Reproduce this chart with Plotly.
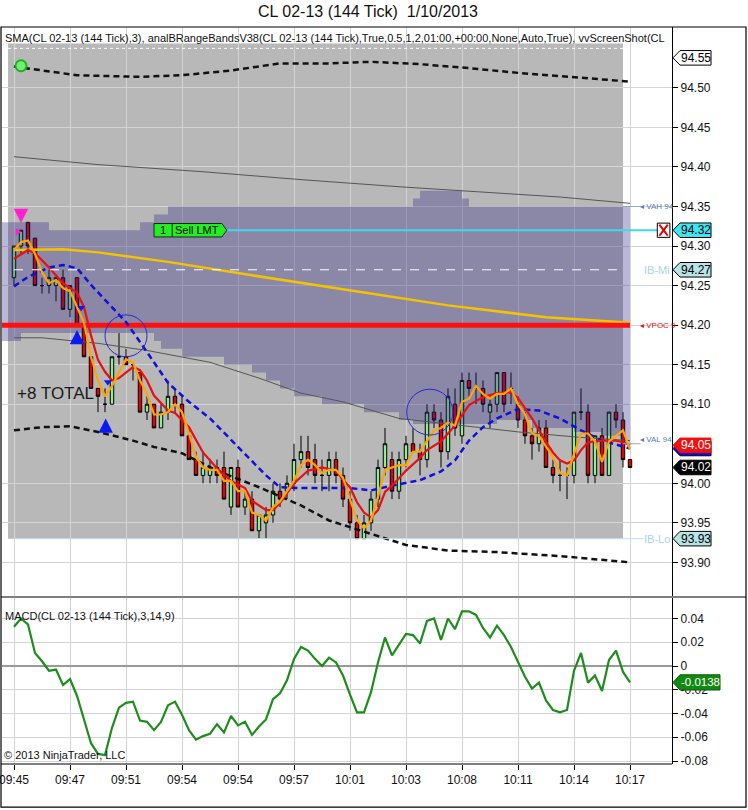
import plotly.graph_objects as go

# ---- CL 02-13, 144 tick bars, x = bar number ----
bar_idx = list(range(89))
tick_bars = [0, 8, 16, 24, 32, 40, 48, 56, 64, 72, 80, 88]
tick_text = ['09:45', '09:47', '09:51', '09:54', '09:54', '09:57',
             '10:01', '10:03', '10:08', '10:11', '10:14', '10:17']

opens = [94.26, 94.30, 94.33, 94.31, 94.25, 94.25, 94.25, 94.26, 94.22, 94.26,
         94.20, 94.16, 94.12, 94.10, 94.10, 94.16, 94.16, 94.15, 94.14, 94.09,
         94.10, 94.07, 94.09, 94.11, 94.10, 94.06, 94.03, 94.01, 94.01, 94.02,
         94.02, 93.97, 94.02, 93.97, 93.98, 93.94, 93.95, 93.96, 93.99, 93.99,
         94.00, 94.03, 94.04, 94.03, 94.01, 94.01, 94.03, 94.01, 93.98, 93.95,
         93.93, 93.95, 93.98, 94.02, 94.03, 93.99, 94.03, 94.05, 94.04, 94.03,
         94.09, 94.08, 94.04, 94.10, 94.06, 94.13, 94.12, 94.12, 94.09, 94.10,
         94.14, 94.12, 94.10, 94.08, 94.06, 94.05, 94.07, 94.02, 94.01, 94.01,
         94.01, 94.09, 94.09, 94.01, 94.06, 94.01, 94.09, 94.08, 94.03]
highs = [94.30, 94.32, 94.33, 94.31, 94.26, 94.27, 94.26, 94.27, 94.25, 94.26,
         94.20, 94.16, 94.12, 94.12, 94.16, 94.19, 94.17, 94.15, 94.14, 94.11,
         94.10, 94.10, 94.13, 94.12, 94.11, 94.07, 94.04, 94.04, 94.03, 94.03,
         94.04, 94.02, 94.03, 93.99, 93.99, 93.96, 93.97, 94.00, 94.00, 94.01,
         94.05, 94.06, 94.06, 94.05, 94.03, 94.04, 94.04, 94.02, 93.99, 93.96,
         93.96, 93.99, 94.03, 94.07, 94.04, 94.04, 94.06, 94.07, 94.05, 94.10,
         94.10, 94.09, 94.12, 94.12, 94.14, 94.14, 94.14, 94.13, 94.11, 94.14,
         94.14, 94.14, 94.11, 94.09, 94.07, 94.08, 94.08, 94.03, 94.03, 94.02,
         94.09, 94.12, 94.10, 94.06, 94.07, 94.09, 94.10, 94.09, 94.03]
lows = [94.25, 94.29, 94.29, 94.25, 94.24, 94.24, 94.23, 94.22, 94.21, 94.20,
        94.16, 94.12, 94.09, 94.09, 94.10, 94.15, 94.15, 94.13, 94.09, 94.08,
        94.07, 94.07, 94.08, 94.09, 94.06, 94.03, 94.01, 94.00, 94.00, 94.00,
        93.98, 93.96, 93.97, 93.96, 93.94, 93.93, 93.93, 93.95, 93.97, 93.98,
        93.99, 94.02, 94.01, 94.00, 93.99, 93.99, 94.00, 93.97, 93.94, 93.93,
        93.93, 93.94, 93.97, 94.01, 93.98, 93.98, 94.02, 94.04, 94.01, 94.02,
        94.07, 94.02, 94.03, 94.06, 94.05, 94.11, 94.10, 94.09, 94.07, 94.09,
        94.09, 94.10, 94.07, 94.05, 94.03, 94.04, 94.02, 94.00, 93.99, 93.98,
        94.00, 94.08, 94.00, 94.00, 94.01, 94.01, 94.07, 94.02, 94.02]
closes = [94.30, 94.32, 94.30, 94.25, 94.25, 94.26, 94.26, 94.22, 94.25, 94.20,
          94.16, 94.12, 94.11, 94.10, 94.16, 94.16, 94.15, 94.15, 94.09, 94.10,
          94.07, 94.09, 94.11, 94.10, 94.06, 94.03, 94.01, 94.02, 94.02, 94.01,
          93.98, 94.02, 93.97, 93.98, 93.94, 93.96, 93.96, 93.99, 93.98, 94.00,
          94.03, 94.04, 94.02, 94.01, 94.01, 94.03, 94.01, 93.98, 93.95, 93.93,
          93.95, 93.98, 94.02, 94.05, 93.99, 94.03, 94.05, 94.04, 94.03, 94.09,
          94.08, 94.04, 94.11, 94.07, 94.13, 94.12, 94.12, 94.10, 94.10, 94.14,
          94.10, 94.12, 94.08, 94.06, 94.05, 94.07, 94.02, 94.01, 94.01, 94.01,
          94.09, 94.09, 94.01, 94.06, 94.01, 94.09, 94.08, 94.03, 94.02]

# SMA(3) line as drawn (orange)
sma3 = [94.295, 94.305, 94.307, 94.290, 94.267, 94.253, 94.257, 94.247, 94.243, 94.223,
        94.203, 94.160, 94.130, 94.110, 94.123, 94.140, 94.157, 94.153, 94.130, 94.113,
        94.087, 94.087, 94.090, 94.100, 94.090, 94.063, 94.033, 94.020, 94.017, 94.017,
        94.003, 94.003, 93.990, 93.990, 93.963, 93.960, 93.953, 93.970, 93.977, 93.990,
        94.003, 94.023, 94.030, 94.023, 94.013, 94.017, 94.017, 94.007, 93.980, 93.953,
        93.943, 93.953, 93.983, 94.017, 94.020, 94.023, 94.023, 94.040, 94.040, 94.053,
        94.067, 94.070, 94.077, 94.073, 94.103, 94.107, 94.123, 94.113, 94.107, 94.113,
        94.113, 94.120, 94.100, 94.087, 94.063, 94.060, 94.047, 94.033, 94.013, 94.010,
        94.037, 94.063, 94.063, 94.053, 94.027, 94.053, 94.060, 94.067, 94.043]

# red moving average (bar, price)
red_x = [0, 2, 3, 5, 7, 9, 10, 11, 12, 13, 14, 15, 17, 18, 19, 20, 22, 23, 25, 27,
         29, 31, 33, 34, 36, 37, 38, 40, 42, 44, 46, 47, 48, 49, 50, 51, 52, 53, 54, 56,
         58, 59, 61, 63, 65, 67, 69, 71, 72, 74, 75, 76, 77, 78, 79, 80, 81, 82, 84, 86,
         87, 88]
red_y = [94.284, 94.295, 94.291, 94.273, 94.253, 94.241, 94.223, 94.187, 94.156, 94.141,
         94.130, 94.133, 94.147, 94.143, 94.130, 94.111, 94.092, 94.089, 94.071, 94.039,
         94.019, 94.003, 93.994, 93.978, 93.966, 93.966, 93.975, 94.000, 94.016, 94.020,
         94.016, 94.004, 93.995, 93.976, 93.963, 93.957, 93.966, 93.989, 93.997, 94.016,
         94.032, 94.042, 94.053, 94.073, 94.099, 94.109, 94.114, 94.115, 94.108, 94.082,
         94.067, 94.052, 94.039, 94.029, 94.025, 94.029, 94.042, 94.052, 94.054, 94.054,
         94.052, 94.048]

# blue dashed average (bar, price)
blue_x = [0, 2, 5, 7, 9, 11, 13, 16, 19, 22, 25, 28, 32, 36, 38, 41, 45, 48, 51, 54,
          58, 61, 63, 65, 67, 69, 72, 75, 78, 81, 84, 88]
blue_y = [94.249, 94.261, 94.273, 94.276, 94.272, 94.251, 94.232, 94.204, 94.166, 94.127,
          94.103, 94.082, 94.046, 94.010, 93.995, 93.994, 93.994, 93.994, 93.991, 93.997,
          94.004, 94.015, 94.029, 94.054, 94.071, 94.082, 94.094, 94.092, 94.082, 94.067,
          94.054, 94.044]

# yellow average
yel_x = [0, 7, 12, 22, 34, 48, 62, 76, 88]
yel_y = [94.295, 94.296, 94.292, 94.280, 94.263, 94.244, 94.225, 94.210, 94.203]

# black dashed range bands
bhi_x = [0, 4, 9, 18, 24, 31, 38, 45, 51, 58, 65, 72, 81, 88]
bhi_y = [94.527, 94.522, 94.516, 94.514, 94.516, 94.522, 94.531, 94.531, 94.533,
         94.530, 94.525, 94.519, 94.513, 94.508]
blo_x = [0, 4, 8, 12, 17, 20, 24, 29, 35, 41, 45, 50, 56, 62, 69, 78, 88]
blo_y = [94.067, 94.071, 94.072, 94.065, 94.054, 94.046, 94.038, 94.016, 93.995,
         93.972, 93.953, 93.939, 93.922, 93.915, 93.913, 93.908, 93.900]

# thin gray averages
g1_x = [0, 12, 27, 41, 55, 69, 78, 88]
g1_y = [94.413, 94.403, 94.394, 94.384, 94.375, 94.367, 94.362, 94.354]
g2_x = [0, 4, 12, 19, 28, 35, 41, 47, 55, 64, 72, 81, 88]
g2_y = [94.184, 94.184, 94.177, 94.168, 94.153, 94.133, 94.114, 94.103, 94.082,
        94.073, 94.065, 94.058, 94.054]

# value area band (stepped)
vah_x = [-2, 5, 18, 20, 22, 57, 58, 64, 65, 88]
vah_y = [94.33, 94.32, 94.33, 94.34, 94.35, 94.36, 94.37, 94.36, 94.35, 94.35]
val_x = [-2, 1, 20, 21, 24, 30, 34, 36, 38, 40, 44, 50, 55, 57, 69, 74, 80, 84, 87, 88]
val_y = [94.18, 94.19, 94.18, 94.17, 94.16, 94.15, 94.14, 94.13, 94.12, 94.11, 94.10,
         94.09, 94.08, 94.075, 94.08, 94.07, 94.065, 94.06, 94.05, 94.05]

ib_high, ib_mid, ib_low = 94.55, 94.27, 93.93
vpoc = 94.20
sell_lmt = 94.32

# MACD(3,14,9)
macd = [0.033, 0.040, 0.035, 0.011, 0.004, -0.004, -0.003, -0.016, -0.011, -0.025,
        -0.045, -0.065, -0.074, -0.075, -0.052, -0.035, -0.031, -0.030, -0.046, -0.047,
        -0.054, -0.047, -0.033, -0.030, -0.041, -0.054, -0.062, -0.059, -0.057, -0.049,
        -0.056, -0.042, -0.050, -0.047, -0.058, -0.051, -0.045, -0.028, -0.023, -0.012,
        0.006, 0.016, 0.013, 0.006, 0.000, 0.007, 0.003, -0.008, -0.024, -0.039,
        -0.039, -0.022, 0.003, 0.024, 0.009, 0.018, 0.027, 0.026, 0.019, 0.038,
        0.040, 0.022, 0.040, 0.031, 0.046, 0.046, 0.043, 0.032, 0.024, 0.034,
        0.026, 0.016, 0.004, -0.009, -0.019, -0.014, -0.029, -0.037, -0.039, -0.037,
        -0.004, 0.011, -0.014, -0.008, -0.021, 0.005, 0.013, -0.005, -0.0138]

# trade markers (arrow tips)
buy_x, buy_y = [9, 13.1], [94.194, 94.082]
tri_dn_x, tri_dn_y = [9.6, 13.4], [94.222, 94.128]
sell_x, sell_y = [1], [94.329]

FONT = 'Arial, Liberation Sans, sans-serif'
GRID = '#d4d4d4'


def px(p):
    # pixel column -> paper x (plot area is 670 px wide starting at px 2)
    return (p - 2) / 670


fig = go.Figure()

# value area band
fig.add_trace(go.Scatter(x=val_x, y=val_y, mode='lines', line=dict(width=0, shape='hv'),
                         hoverinfo='skip', showlegend=False))
fig.add_trace(go.Scatter(x=vah_x, y=vah_y, mode='lines', line=dict(width=0, shape='hv'),
                         fill='tonexty', fillcolor='rgba(45,35,130,0.32)',
                         hoverinfo='skip', showlegend=False))

for xs, ys in [(g1_x, g1_y), (g2_x, g2_y)]:
    fig.add_trace(go.Scatter(x=xs, y=ys, mode='lines', line=dict(color='#555555', width=1),
                             showlegend=False))

fig.add_trace(go.Scatter(x=yel_x, y=yel_y, mode='lines', line=dict(color='#F5C200', width=2.5),
                         showlegend=False))
fig.add_trace(go.Scatter(x=[-2, 88], y=[vpoc, vpoc], mode='lines',
                         line=dict(color='#FF1010', width=5), showlegend=False))

for xs, ys in [(bhi_x, bhi_y), (blo_x, blo_y)]:
    fig.add_trace(go.Scatter(x=xs, y=ys, mode='lines',
                             line=dict(color='#111111', width=2.5, dash='6px,4px'),
                             showlegend=False))

fig.add_trace(go.Candlestick(
    x=bar_idx, open=opens, high=highs, low=lows, close=closes,
    increasing=dict(line=dict(color='black', width=1), fillcolor='#90EE90'),
    decreasing=dict(line=dict(color='black', width=1), fillcolor='#E80000'),
    whiskerwidth=0, showlegend=False, xaxis='x', yaxis='y'))

fig.add_trace(go.Scatter(x=blue_x, y=blue_y, mode='lines',
                         line=dict(color='#1010D8', width=2.5, dash='6px,4px'), showlegend=False))
fig.add_trace(go.Scatter(x=red_x, y=red_y, mode='lines', line=dict(color='#E81010', width=2.2),
                         showlegend=False))
fig.add_trace(go.Scatter(x=bar_idx, y=sma3, mode='lines', line=dict(color='#FFA500', width=2.2),
                         showlegend=False))

# small signal marks
fig.add_trace(go.Scatter(x=tri_dn_x, y=tri_dn_y, mode='markers',
                         marker=dict(symbol='triangle-down', size=7, color='#0A1AF0'), showlegend=False))
fig.add_trace(go.Scatter(x=[0.5], y=[94.318], mode='markers',
                         marker=dict(symbol='triangle-right', size=7, color='#FF20D0'), showlegend=False))
fig.add_trace(go.Scatter(x=[1], y=[94.528], mode='markers',
                         marker=dict(symbol='circle', size=11, color='#70F070',
                                     line=dict(color='#20B020', width=2)), showlegend=False))

# MACD panel
fig.add_trace(go.Scatter(x=bar_idx, y=macd, mode='lines', line=dict(color='#1E8C1E', width=2.2),
                         xaxis='x2', yaxis='y2', showlegend=False))

shapes = []
# initial balance range (gray) and its lines
shapes.append(dict(type='rect', xref='x', yref='y', x0=-0.85, x1=87, y0=ib_low, y1=ib_high + 0.006,
                   fillcolor='#B8B8B8', line=dict(width=0), layer='below'))
shapes.append(dict(type='line', xref='x', yref='y', x0=-0.85, x1=87, y0=ib_high, y1=ib_high,
                   line=dict(color='white', width=1, dash='dot')))
shapes.append(dict(type='line', xref='x', yref='y', x0=0, x1=87, y0=ib_mid, y1=ib_mid,
                   line=dict(color='white', width=1, dash='dash')))
shapes.append(dict(type='line', xref='x', yref='y', x0=0, x1=90, y0=ib_low, y1=ib_low,
                   line=dict(color='#B8E2EE', width=1)))
# short VAH / VAL pointer lines
for lvl in [vah_y[-1], val_y[-1]]:
    shapes.append(dict(type='line', xref='x', yref='y', x0=87, x1=89.5, y0=lvl, y1=lvl,
                       line=dict(color='#8EA8C8', width=1)))
# circles
shapes.append(dict(type='circle', xref='x', yref='y', x0=13, x1=19, y0=94.160, y1=94.213,
                   line=dict(color='#2828D0', width=1)))
shapes.append(dict(type='circle', xref='x', yref='y', x0=56.1, x1=62.7, y0=94.061, y1=94.119,
                   line=dict(color='#2828D0', width=1)))
# sell limit order
shapes.append(dict(type='line', xref='x', yref='y', x0=30.3, x1=91.9, y0=sell_lmt, y1=sell_lmt,
                   line=dict(color='#40D8EC', width=2)))
shapes.append(dict(type='path', xref='x', yref='y',
                   path='M 20,94.3285 L 29.7,94.3285 L 30.4,94.32 L 29.7,94.3115 L 20,94.3115 Z',
                   fillcolor='#22EE22', line=dict(color='#222222', width=1)))
shapes.append(dict(type='line', xref='x', yref='y', x0=22.6, x1=22.6, y0=94.3115, y1=94.3285,
                   line=dict(color='#222222', width=1)))
shapes.append(dict(type='rect', xref='x', yref='y', x0=91.9, x1=93.7, y0=94.311, y1=94.329,
                   fillcolor='white', line=dict(color='black', width=1)))
for ya, yb in [(94.313, 94.327), (94.327, 94.313)]:
    shapes.append(dict(type='line', xref='x', yref='y', x0=92.2, x1=93.4, y0=ya, y1=yb,
                       line=dict(color='#E00000', width=2)))

# frame and panel separators (paper coords)
shapes.append(dict(type='rect', xref='paper', yref='paper', x0=px(1), x1=px(746), y0=-0.0584, y1=1,
                   line=dict(color='black', width=1.2)))
shapes.append(dict(type='line', xref='paper', yref='paper', x0=px(1), x1=px(746), y0=0.2266, y1=0.2266,
                   line=dict(color='black', width=1.2)))
shapes.append(dict(type='line', xref='paper', yref='paper', x0=px(1), x1=1, y0=0, y1=0,
                   line=dict(color='black', width=1.2)))

annotations = []


def price_tag(val, ypos, yref, fill, fcolor, width_px, half, border='black', size=12):
    xt, xb, xe = px(673), px(680), px(680 + width_px)
    shapes.append(dict(type='path', xref='paper', yref=yref,
                       path=f'M {xt},{ypos} L {xb},{ypos + half} L {xe},{ypos + half} '
                            f'L {xe},{ypos - half} L {xb},{ypos - half} Z',
                       fillcolor=fill, line=dict(color=border, width=1)))
    if val:
        annotations.append(dict(xref='paper', yref=yref, x=(xb + xe) / 2, y=ypos, text=val,
                                xanchor='center', yanchor='middle', showarrow=False,
                                font=dict(family=FONT, size=size, color=fcolor)))


price_tag('94.55', 94.538, 'y', 'white', 'black', 31, 0.0092)
price_tag(f'{sell_lmt:.2f}', sell_lmt, 'y', '#3EE6F2', 'black', 31, 0.0092)
price_tag(f'{ib_mid:.2f}', ib_mid, 'y', '#B8E4E8', 'black', 31, 0.0092)
price_tag('', blue_y[-1], 'y', '#1010D8', '#1010D8', 31, 0.0092)  # mostly hidden under red tag
price_tag(f'{red_y[-1]:.2f}', red_y[-1], 'y', '#F01010', 'white', 31, 0.0092, border='#F01010')
price_tag(f'{closes[-1]:.2f}', closes[-1], 'y', 'black', 'white', 31, 0.0092)
price_tag(f'{ib_low:.2f}', ib_low, 'y', '#B8E4E8', 'black', 31, 0.0092)
price_tag(f'{macd[-1]:.4f}', macd[-1], 'y2', '#128A12', 'white', 40, 0.0064,
          border='#0A5A0A', size=11.5)

# entry / exit arrows
for bx, by in zip(buy_x, buy_y):
    annotations.append(dict(xref='x', yref='y', x=bx, y=by, ax=0, ay=15, showarrow=True,
                            arrowhead=2, arrowsize=0.9, arrowwidth=3.2, arrowcolor='#0A1AF0', text=''))
for sx, sy in zip(sell_x, sell_y):
    annotations.append(dict(xref='x', yref='y', x=sx, y=sy, ax=0, ay=-14, showarrow=True,
                            arrowhead=2, arrowsize=0.9, arrowwidth=3.2, arrowcolor='#FF20D0', text=''))

small = dict(family=FONT, size=8)
annotations += [
    dict(xref='paper', yref='paper', x=px(368), y=1.0204, text='CL 02-13 (144 Tick)  1/10/2013',
         xanchor='center', yanchor='middle', showarrow=False,
         font=dict(family=FONT, size=16, color='#111111')),
    dict(xref='paper', yref='paper', x=px(3), y=0.985, xanchor='left', yanchor='middle',
         text='SMA(CL 02-13 (144 Tick),3), analBRangeBandsV38(CL 02-13 (144 Tick),True,0.5,1,2,'
              '01:00,+00:00,None,Auto,True), vvScreenShot(CL',
         showarrow=False, font=dict(family=FONT, size=11, color='#111111')),
    dict(xref='x', yref='y', x=5.9, y=94.113, text='+8 TOTAL', showarrow=False,
         font=dict(family=FONT, size=17, color='#1A1A1A')),
    dict(xref='x', yref='y', x=21.3, y=sell_lmt, text='1', showarrow=False,
         font=dict(family=FONT, size=11, color='black')),
    dict(xref='x', yref='y', x=26.1, y=sell_lmt, text='Sell LMT', showarrow=False,
         font=dict(family=FONT, size=11, color='black')),
    dict(xref='x', yref='y', x=89.2, y=vah_y[-1], xanchor='left', text='◂ VAH 94', showarrow=False,
         font=dict(small, color='#5A80A8')),
    dict(xref='x', yref='y', x=89.2, y=vpoc, xanchor='left', text='◂ VPOC 9', showarrow=False,
         font=dict(small, color='#E01010')),
    dict(xref='x', yref='y', x=89.2, y=val_y[-1] + 0.005, xanchor='left', text='◂ VAL 94',
         showarrow=False, font=dict(small, color='#5A80A8')),
    dict(xref='x', yref='y', x=89.7, y=ib_mid, xanchor='left', text='IB-Mi', showarrow=False,
         font=dict(family=FONT, size=11, color='#A8D4E4')),
    dict(xref='x', yref='y', x=89.7, y=ib_low, xanchor='left', text='IB-Lo', showarrow=False,
         font=dict(family=FONT, size=11, color='#A8D4E4')),
    dict(xref='paper', yref='y2 domain', x=px(3), y=1, yanchor='top', yshift=-10, xanchor='left',
         text='MACD(CL 02-13 (144 Tick),3,14,9)', showarrow=False,
         font=dict(family=FONT, size=11, color='#111111')),
    dict(xref='paper', yref='y2 domain', x=px(2), y=0, yanchor='bottom', yshift=1, xanchor='left',
         text='© 2013 NinjaTrader, LLC', showarrow=False,
         font=dict(family=FONT, size=11, color='#111111')),
]

main_ticks = [93.90, 93.95, 94.00, 94.10, 94.15, 94.20, 94.25, 94.30, 94.35, 94.40, 94.45, 94.50]
macd_ticks = [-0.08, -0.06, -0.04, -0.02, 0, 0.02, 0.04]

fig.update_layout(
    width=748, height=810, margin=dict(l=2, r=76, t=27, b=46, autoexpand=False),
    paper_bgcolor='white', plot_bgcolor='white',
    font=dict(family=FONT, size=12, color='#111111'),
    shapes=shapes, annotations=annotations, showlegend=False,
    xaxis=dict(domain=[0, 1], anchor='y', range=[-1.714, 94.0], tickvals=tick_bars,
               showticklabels=False, ticks='', showgrid=True, gridcolor=GRID, zeroline=False,
               automargin=False, rangeslider=dict(visible=False)),
    xaxis2=dict(domain=[0, 1], anchor='y2', range=[-1.714, 94.0], tickvals=tick_bars,
                ticktext=tick_text, ticks='outside', ticklen=5, tickcolor='black',
                showgrid=True, gridcolor=GRID, zeroline=False, automargin=False,
                ticklabeloverflow='allow',
                tickfont=dict(family=FONT, size=12, color='#111111')),
    yaxis=dict(domain=[0.2285, 1], anchor='x', side='right', range=[93.858, 94.577],
               tickvals=main_ticks, tickformat='.2f', ticks='outside', ticklen=5,
               tickcolor='black', showgrid=True, gridcolor=GRID, zeroline=False,
               showline=True, linecolor='black', linewidth=1.2, automargin=False,
               tickfont=dict(family=FONT, size=12, color='#111111')),
    yaxis2=dict(domain=[0, 0.2253], anchor='x2', side='right', range=[-0.0825, 0.0573],
                tickvals=macd_ticks, ticktext=['-0.08', '-0.06', '-0.04', '-0.02', '0', '0.02', '0.04'],
                ticks='outside', ticklen=5, tickcolor='black', showgrid=True, gridcolor=GRID,
                zeroline=True, zerolinecolor='#9A9A9A', zerolinewidth=1.5,
                showline=True, linecolor='black', linewidth=1.2, automargin=False,
                tickfont=dict(family=FONT, size=12, color='#111111')),
)

# the page body has a default 8px margin; drop it so the chart sits at the window corner
fig.write_html('out.html', config={'displayModeBar': False},
               post_script="document.body.style.margin='0';")
